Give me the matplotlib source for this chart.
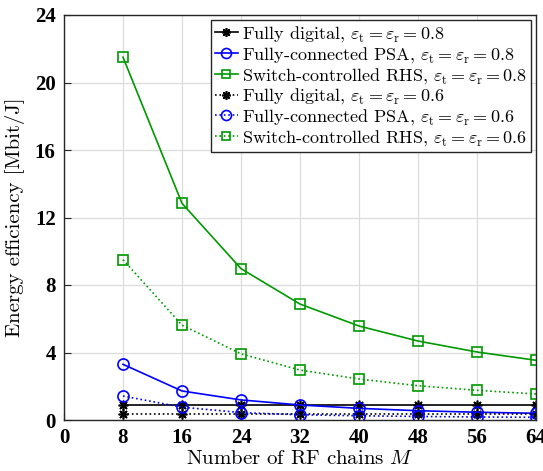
import matplotlib.pyplot as plt

plt.rcParams['mathtext.fontset'] = 'cm'
plt.rcParams['axes.unicode_minus'] = False

M = [8, 16, 24, 32, 40, 48, 56, 64]
fd_08 = [0.89, 0.89, 0.89, 0.89, 0.89, 0.89, 0.89, 0.89]
psa_08 = [3.30, 1.72, 1.19, 0.89, 0.69, 0.55, 0.46, 0.40]
rhs_08 = [21.5, 12.84, 8.97, 6.87, 5.57, 4.68, 4.03, 3.54]
fd_06 = [0.38, 0.38, 0.38, 0.38, 0.38, 0.38, 0.38, 0.38]
psa_06 = [1.42, 0.76, 0.44, 0.31, 0.25, 0.21, 0.18, 0.16]
rhs_06 = [9.5, 5.62, 3.92, 2.96, 2.43, 2.03, 1.76, 1.54]

eps = r', $\varepsilon_{\rm t}=\varepsilon_{\rm r}=%s$'
green = '#009900'

fig = plt.figure(figsize=(5.43, 4.71), dpi=100)
ax = fig.add_axes([64/543, 1-420/471, 472/543, 405/471])

lw = 1.2
ast = (8, 2, 0)
kw_c = dict(marker='o', ms=8, mfc='none', mew=1.2, lw=lw)
kw_s = dict(marker='s', ms=6.5, mfc='none', mew=1.2, lw=lw)
kw_a = dict(marker=ast, ms=7, mew=1.2, lw=lw)
ax.plot(M, fd_08, '-', color='k', label='Fully digital' + eps % '0.8', **kw_a)
ax.plot(M, psa_08, '-', color='b', label='Fully-connected PSA' + eps % '0.8', **kw_c)
ax.plot(M, rhs_08, '-', color=green, label='Switch-controlled RHS' + eps % '0.8', **kw_s)
ax.plot(M, fd_06, ':', color='k', label='Fully digital' + eps % '0.6', **kw_a)
ax.plot(M, psa_06, ':', color='b', label='Fully-connected PSA' + eps % '0.6', **kw_c)
ax.plot(M, rhs_06, ':', color=green, label='Switch-controlled RHS' + eps % '0.6', **kw_s)

ax.set_xlim(0, 64)
ax.set_ylim(0, 24)
ax.set_xticks([0, 8, 16, 24, 32, 40, 48, 56, 64])
ax.set_yticks([0, 4, 8, 12, 16, 20, 24])
ax.grid(True, color='#dcdcdc', lw=0.9)
ax.set_axisbelow(True)
ax.tick_params(direction='in', length=5, color='#262626', pad=6)
for lab in ax.get_xticklabels() + ax.get_yticklabels():
    lab.set_fontfamily('Liberation Serif')
    lab.set_fontweight('bold')
    lab.set_fontsize(15)
for s in ax.spines.values():
    s.set_color('#262626')
    s.set_linewidth(1.0)

ax.set_xlabel(r'Number of RF chains $M$', fontfamily='cmr10', fontsize=15, labelpad=1)
ax.set_ylabel('Energy efficiency [Mbit/J]', fontfamily='cmr10', fontsize=15, labelpad=7)

leg = ax.legend(loc='upper right', prop={'family': 'cmr10', 'size': 13},
                handlelength=1.3, handletextpad=0.2, labelspacing=0.05,
                borderpad=0.2, borderaxespad=0.3, fancybox=False, framealpha=1,
                markerscale=0.9)
leg.get_frame().set_edgecolor('#262626')
leg.get_frame().set_linewidth(1.0)

fig.savefig('out.png', dpi=100)
